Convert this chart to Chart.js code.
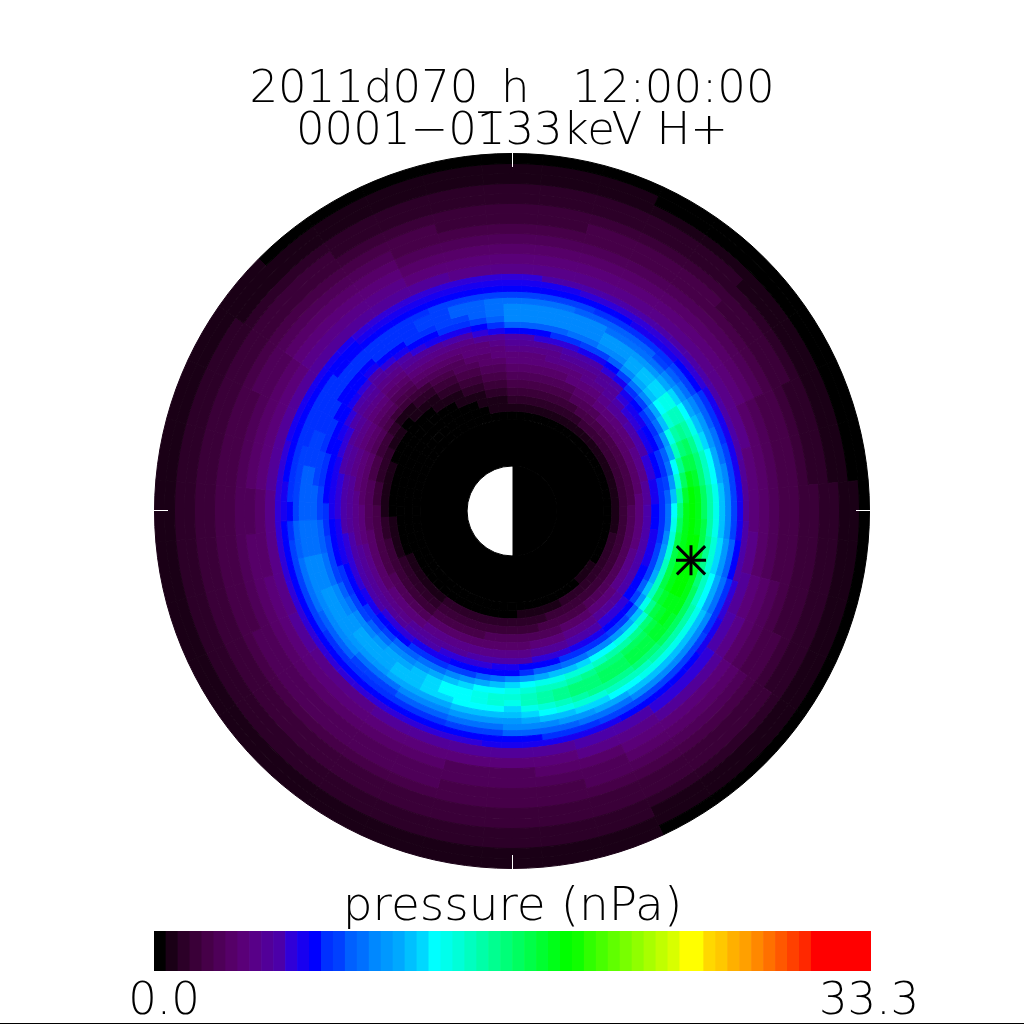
<!DOCTYPE html>
<html lang="en">
<head>
    <meta charset="UTF-8">
    <title>2011d070_h pressure</title>
    <style>
        body { margin: 0; background: #fff; }
        canvas { position: absolute; left: 0; }
        #disc { top: 0; }
        #bar { top: 880px; }
        #edge { position: absolute; left: 0; top: 1023px; width: 1024px; height: 1px; background: #000; }
    </style>
</head>
<body>
    <canvas id="disc" width="1024" height="1024"></canvas>
    <canvas id="bar" width="1024" height="144"></canvas>
    <div id="edge"></div>
<script src="https://cdn.jsdelivr.net/npm/chart.js@4.4.1/dist/chart.umd.min.js"></script>
<script>
const titleLines = ['2011d070_h   12:00:00', '0001\u22120133keV H+'];
const barTitle = 'pressure (nPa)';
const barEnds = ['0.0', '33.3'];
const FONT = 'DejaVu Sans';

// 60 colour levels of the colour bar, 0.0 to 33.3 nPa
const palette = [
    '#000000','#1a0016','#2c0028','#3a0038','#460048','#4e0058','#560068','#5a0078','#580088','#520098',
    '#4c00a8','#3000d8','#1800f0','#0000ff','#0030ff','#0040ff','#0060ff','#0070ff','#0088ff','#0098ff',
    '#00a8ff','#00c0ff','#00d8ff','#00ffff','#00ffec','#00ffd8','#00ffc0','#00ffa8','#00ff90','#00ff78',
    '#00ff60','#00ff48','#00ff30','#00ff18','#00ff00','#10ff00','#30ff00','#48ff00','#60ff00','#78ff00',
    '#90ff00','#a8ff00','#c0ff00','#d8ff00','#ffff00','#ffff00','#ffd800','#ffc800','#ffb000','#ffa000',
    '#ff8800','#ff7000','#ff5800','#ff4000','#ff2800','#ff0000','#ff0000','#ff0000','#ff0000','#ff0000'
];

// ring thickness from the rim inwards: radius 358 to 238, 238 to 148, 148 to 92, then the two inner rings
const outerRingWeights = [10,10,10,10,10,10,10,10,10,10,10,10];
const innerRingWeights = [6,6,6,6,6,6,6,6,6,6,6,6,6,6,6, 8,8,8,8,8,8,8];
const darkRingWeight = 47;
const coreWeight = 45;

// outer rings: pressure level per ring, one row per 10 degree sector clockwise from the top
const outerLevels = [
    [0,1,1,2,2,3,3,4,5,6,7,8],
    [0,1,1,2,2,3,3,4,5,6,7,8],
    [0,1,1,2,2,3,4,4,5,6,7,8],
    [0,0,1,2,2,3,4,4,5,6,7,8],
    [0,0,1,2,2,3,4,4,5,6,7,8],
    [0,0,1,1,2,3,3,4,5,6,7,8],
    [0,0,1,1,2,3,3,4,5,6,7,8],
    [0,0,1,1,2,2,3,4,4,5,6,8],
    [0,0,1,1,2,2,3,4,4,5,6,7],
    [0,1,1,2,2,3,3,4,4,5,6,7],
    [0,1,1,2,2,3,3,4,4,5,6,8],
    [0,1,1,2,2,3,3,4,5,6,7,9],
    [0,1,1,2,2,3,4,4,5,6,8,10],
    [0,1,1,2,3,3,4,5,6,7,9,11],
    [0,1,1,2,3,3,4,5,6,7,9,11],
    [0,1,1,2,3,3,4,5,6,7,8,10],
    [1,1,2,2,3,3,4,5,5,6,8,10],
    [1,1,2,2,3,3,4,4,5,6,7,9],
    [1,1,2,2,3,3,4,4,5,5,7,9],
    [1,1,2,2,3,3,4,4,5,5,7,9],
    [1,1,2,2,3,3,4,5,5,6,7,9],
    [1,1,2,2,3,3,4,5,5,6,7,9],
    [1,1,2,2,3,3,4,5,5,6,7,8],
    [1,1,2,2,3,3,4,5,5,6,7,8],
    [1,1,2,2,3,3,4,5,5,6,7,9],
    [1,1,2,2,3,3,4,4,5,6,7,8],
    [1,1,2,2,3,3,4,4,5,6,6,8],
    [1,1,2,2,3,3,4,4,5,5,6,8],
    [1,1,2,2,3,3,4,4,5,6,7,9],
    [1,1,2,2,3,3,4,4,5,6,7,9],
    [1,1,2,2,3,3,4,5,5,6,7,9],
    [1,1,1,2,3,3,4,5,6,7,8,9],
    [0,1,1,2,3,3,4,5,6,7,8,9],
    [0,1,1,2,2,3,4,5,6,7,8,9],
    [0,1,1,2,2,3,4,4,5,6,7,9],
    [0,1,1,2,2,3,3,4,5,6,7,8]
];

// inner rings, with the pressure ridge: one row per 5 degree sector clockwise from the top
const innerLevels = [
    [11,12,13,15,17,18,18,18,16,13,10,9,8,7,7,6,5,4,3,2,1,0],
    [11,12,13,15,17,18,18,18,16,13,10,9,8,7,7,6,5,4,3,2,1,0],
    [10,12,13,15,17,18,18,18,16,13,11,9,8,7,7,6,5,4,3,2,1,0],
    [10,12,13,15,17,18,18,18,16,14,11,9,8,8,7,6,5,4,3,2,1,0],
    [10,11,13,15,16,18,18,18,17,14,11,10,9,8,7,6,5,4,3,2,1,0],
    [10,11,13,14,16,18,18,18,17,15,12,10,9,8,7,7,5,4,3,2,1,0],
    [10,11,13,14,16,17,19,19,18,15,12,10,9,8,8,7,6,5,3,2,1,0],
    [10,11,12,14,16,17,19,19,18,16,13,11,9,9,8,7,6,5,4,2,1,0],
    [10,11,12,14,16,17,19,20,20,18,15,12,10,9,9,8,7,5,4,3,1,0],
    [10,11,12,14,15,17,19,21,21,20,17,14,12,11,10,9,7,6,4,3,1,0],
    [10,11,13,15,16,18,20,22,22,21,18,15,13,12,11,9,7,6,4,3,1,0],
    [10,11,13,15,17,19,22,24,24,23,20,16,14,12,11,10,7,6,4,3,1,0],
    [10,12,14,16,18,20,23,26,26,25,21,17,14,13,12,10,7,6,4,3,1,0],
    [10,12,14,16,19,21,24,27,28,27,24,19,15,13,12,10,8,6,4,3,1,0],
    [10,12,14,17,19,22,25,28,30,29,26,20,16,14,13,11,8,6,4,3,1,0],
    [10,12,15,17,20,23,26,29,31,31,28,23,17,14,13,11,8,6,4,3,1,0],
    [9,12,15,18,20,23,26,29,32,33,30,25,19,15,14,12,9,6,4,3,1,0],
    [9,12,15,18,21,24,27,30,33,34,32,27,21,16,14,12,9,7,4,3,1,0],
    [9,12,15,18,21,24,27,30,33,34,33,29,23,17,14,13,10,7,5,3,1,0],
    [10,12,15,18,21,24,27,31,33,34,33,30,24,17,14,13,10,7,5,3,1,0],
    [10,13,16,19,22,25,28,31,34,34,33,31,25,18,14,12,10,7,5,3,1,0],
    [10,13,16,19,22,25,28,32,34,34,33,31,25,19,15,12,10,7,5,3,2,0],
    [11,14,17,20,23,26,29,33,34,34,33,31,26,19,15,12,10,8,5,3,2,0],
    [11,14,17,20,23,26,30,33,34,34,33,31,26,20,15,13,10,8,5,3,2,0],
    [12,14,18,21,24,27,30,33,33,33,32,30,26,21,16,13,10,8,5,3,2,0],
    [12,15,18,21,24,27,30,32,33,32,31,28,24,19,15,13,10,8,5,3,2,1],
    [13,15,18,21,24,27,30,32,32,31,29,25,21,16,13,11,9,7,5,3,2,1],
    [13,15,18,21,24,27,29,31,31,30,28,24,20,15,13,11,9,7,5,3,2,1],
    [13,15,18,21,24,26,29,31,31,30,27,24,19,15,13,11,9,7,5,3,2,0],
    [13,15,18,21,23,26,28,30,30,29,27,23,18,14,12,10,8,6,4,3,2,0],
    [13,15,17,20,23,26,28,30,30,29,26,23,18,14,12,10,8,6,4,3,2,0],
    [12,15,17,20,22,25,28,29,29,28,25,22,17,14,12,10,8,6,4,3,1,0],
    [12,14,17,19,22,25,27,29,29,27,25,21,17,14,11,9,7,5,4,3,1,0],
    [12,14,16,19,21,24,26,28,28,26,24,21,16,13,11,9,7,5,4,2,1,0],
    [12,14,16,18,21,23,25,27,27,26,24,20,16,13,11,9,7,5,3,2,1,0],
    [12,13,16,18,20,22,24,26,26,25,23,19,14,13,10,8,6,5,3,2,1,0],
    [12,13,16,18,19,21,22,24,25,24,22,18,13,12,10,8,6,5,3,2,0,0],
    [12,13,15,17,19,21,23,25,25,23,21,17,13,12,10,8,6,5,3,2,0,0],
    [11,13,15,17,19,21,23,24,24,23,20,16,13,11,10,8,6,5,3,2,0,0],
    [11,13,15,17,19,21,23,23,23,22,19,15,13,11,10,8,6,4,3,2,0,0],
    [11,13,14,16,18,20,22,23,23,21,18,15,13,11,9,8,6,4,3,2,0,0],
    [11,13,14,16,18,20,22,22,22,20,17,14,12,11,9,8,6,4,3,2,0,0],
    [11,13,14,16,18,20,21,21,21,19,17,14,12,10,9,8,6,4,3,2,0,0],
    [11,13,14,15,17,20,21,21,20,18,16,14,12,10,9,8,6,4,3,2,0,0],
    [11,13,14,15,17,19,20,20,20,18,16,13,11,10,9,7,5,3,2,1,0,0],
    [11,13,14,15,17,19,20,20,19,17,15,13,11,9,8,7,5,3,2,1,0,0],
    [11,13,14,16,18,19,20,20,18,16,14,13,11,9,8,7,5,3,2,1,0,0],
    [11,13,14,16,18,19,19,19,18,15,14,12,10,9,8,7,5,3,2,1,0,0],
    [11,13,15,16,18,19,19,18,17,15,13,12,10,9,8,6,5,3,2,1,0,0],
    [11,13,15,17,18,19,19,18,16,14,13,11,10,9,8,6,4,3,2,1,0,0],
    [11,13,15,17,18,18,18,17,15,14,13,11,10,9,8,6,4,3,1,0,0,0],
    [11,13,15,17,18,18,18,17,15,13,12,11,10,9,8,6,4,3,1,0,0,0],
    [11,13,15,16,17,17,17,16,15,13,12,11,10,8,7,6,4,2,1,0,0,0],
    [11,13,14,16,17,17,17,16,14,13,12,10,9,8,7,5,4,2,1,0,0,0],
    [11,12,13,15,16,16,16,15,14,12,11,10,9,8,7,5,4,1,0,0,0,0],
    [11,12,14,15,16,16,16,15,13,12,11,10,9,8,6,5,3,1,0,0,0,0],
    [11,13,14,15,16,16,15,14,13,12,11,10,9,7,6,5,3,1,0,0,0,0],
    [11,13,14,15,15,15,15,14,13,12,10,9,8,7,6,4,2,1,0,0,0,0],
    [12,13,14,14,15,15,14,13,13,11,10,9,8,7,6,4,2,1,0,0,0,0],
    [12,13,14,14,14,14,14,13,12,11,9,8,7,6,5,3,2,0,0,0,0,0],
    [12,13,14,14,14,14,13,13,11,10,9,8,7,6,5,3,1,0,0,0,0,0],
    [12,13,14,14,14,13,13,12,10,9,8,7,6,5,4,2,1,0,0,0,0,0],
    [12,13,13,14,14,13,13,11,10,9,8,7,6,5,3,1,0,0,0,0,0,0],
    [12,13,13,14,14,13,12,10,9,8,7,6,5,4,3,1,1,0,0,0,0,0],
    [11,12,13,14,14,14,13,11,9,8,7,6,5,4,3,2,1,0,0,0,0,0],
    [11,12,13,14,14,14,13,12,10,9,8,7,6,5,3,2,1,1,0,0,0,0],
    [11,12,13,14,14,14,14,13,11,9,8,7,6,5,4,3,2,1,0,0,0,0],
    [11,12,13,14,15,15,14,13,12,9,8,7,6,5,4,3,2,1,1,0,0,0],
    [11,12,13,15,15,15,15,14,12,10,8,7,6,5,5,4,3,2,1,0,0,0],
    [11,12,13,15,16,16,15,14,12,10,8,7,7,6,5,4,3,2,1,1,0,0],
    [11,12,13,15,16,16,16,15,13,11,9,7,7,6,6,5,4,3,2,1,1,0],
    [11,12,13,15,17,17,17,16,14,12,9,8,7,7,6,5,4,3,2,1,1,0]
];

// maximum pressure position in the x/y plane of the plot
const markerX = [4.0];
const markerY = [-1.1];
const axisRange = [-8, 8];

function ring(weight, sizes, colors, rotation) {
    return {
        type: 'doughnut',
        weight: weight,
        data: sizes,
        backgroundColor: colors,
        borderColor: colors,
        borderWidth: 1,
        hoverOffset: 0,
        rotation: rotation,
        cutout: 0
    };
}

// rings from a table of rows, each first sector centred on the top of the disc
function ringsFrom(weights, rows) {
    const sizes = rows.map(() => 1);
    return weights.map((w, i) =>
        ring(w, sizes, rows.map(row => palette[row[i]]), -180 / rows.length));
}

const datasets = ringsFrom(outerRingWeights, outerLevels).concat(ringsFrom(innerRingWeights, innerLevels));
datasets.push(ring(darkRingWeight, [1], [palette[0]], 0));
datasets.push(ring(coreWeight, [1, 1], ['#000000', '#ffffff'], 0));

const marker = markerX.map((x, i) => ({ x: x, y: markerY[i] }));
['cross', 'crossRot'].forEach((style, i) => {
    datasets.push({
        type: 'scatter',
        weight: 0,
        order: -1,
        data: marker,
        pointStyle: style,
        pointRadius: i ? 20 : 15,
        borderColor: '#000',
        pointBorderWidth: 3
    });
});

// the four axes take no room, their ticks point inwards over the disc
function edgeAxis(position, axis) {
    return {
        type: 'linear',
        axis: axis,
        position: position,
        min: axisRange[0],
        max: axisRange[1],
        afterBuildTicks: scale => { scale.ticks = [{ value: 0 }]; },
        afterFit: scale => { if (axis === 'x') scale.height = 0; else scale.width = 0; },
        ticks: { display: false },
        border: { display: false },
        grid: { drawOnChartArea: false, tickLength: -14, tickWidth: 1, tickColor: '#fff', z: 1 }
    };
}

new Chart(document.getElementById('disc'), {
    type: 'scatter',
    data: { datasets: datasets },
    options: {
        responsive: false,
        animation: false,
        events: [],
        layout: { padding: { left: 154, right: 154, top: 0, bottom: 155 } },
        plugins: {
            legend: { display: false },
            tooltip: { enabled: false },
            title: {
                display: true,
                text: titleLines,
                color: '#000',
                padding: { top: 69, bottom: 0 },
                font: { family: FONT, size: 45, weight: '200', lineHeight: 0.933 }
            }
        },
        scales: {
            x: edgeAxis('bottom', 'x'),
            x2: edgeAxis('top', 'x'),
            y: edgeAxis('left', 'y'),
            y2: edgeAxis('right', 'y')
        }
    }
});

new Chart(document.getElementById('bar'), {
    type: 'bar',
    data: {
        labels: palette.map((c, i) => i),
        datasets: [{
            data: palette.map(() => 1),
            backgroundColor: palette,
            barPercentage: 1,
            categoryPercentage: 1
        }]
    },
    options: {
        responsive: false,
        animation: false,
        events: [],
        layout: { padding: { left: 154, right: 153, top: 0, bottom: 0 } },
        plugins: { legend: { display: false }, tooltip: { enabled: false } },
        scales: {
            x: {
                afterFit: scale => { scale.height = 53; },
                grid: { display: false, tickLength: 4 },
                border: { display: false },
                ticks: {
                    autoSkip: false,
                    maxRotation: 0,
                    minRotation: 0,
                    labelOffset: 4,
                    color: '#000',
                    padding: 0,
                    font: { family: FONT, size: 45, weight: '200' },
                    callback: (v, i) => i === 0 ? barEnds[0] : i === palette.length - 1 ? barEnds[1] : ''
                }
            },
            x2: {
                type: 'category',
                axis: 'x',
                position: 'top',
                afterFit: scale => { scale.height = 51; },
                grid: { display: false },
                border: { display: false, z: 1 },
                ticks: { display: false },
                title: {
                    display: true,
                    text: barTitle,
                    color: '#000',
                    padding: { top: 2, bottom: 0 },
                    font: { family: FONT, size: 47, weight: '200', lineHeight: 1.1 }
                }
            },
            y: { display: false, min: 0, max: 1 }
        }
    }
});
</script>
</body>
</html>
